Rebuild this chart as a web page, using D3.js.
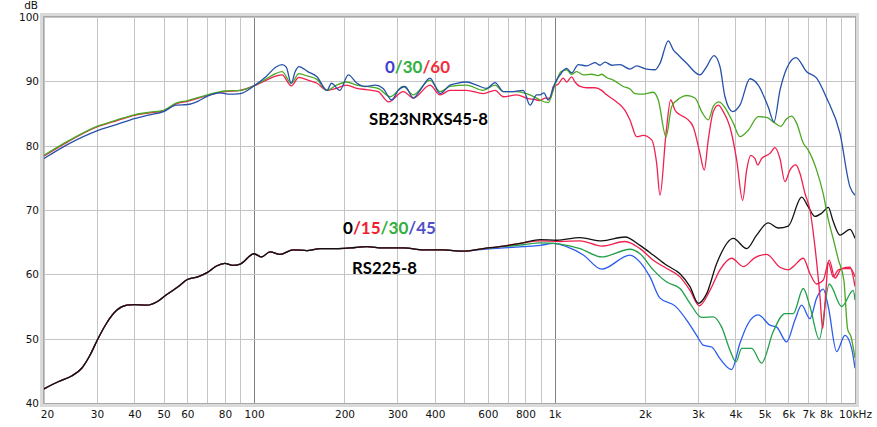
<!DOCTYPE html>
<html><head><meta charset="utf-8">
<script src="https://cdn.jsdelivr.net/npm/d3@7"></script>
<style>html,body{margin:0;padding:0;background:#fff;}svg{display:block;}</style>
</head><body>
<svg id="c" width="877" height="427"></svg>
<script>
// ---------- DATA ----------
const xTickLabels = [[20,"20"],[30,"30"],[40,"40"],[50,"50"],[60,"60"],[80,"80"],[100,"100"],[200,"200"],[300,"300"],[400,"400"],[600,"600"],[800,"800"],[1000,"1k"],[2000,"2k"],[3000,"3k"],[4000,"4k"],[5000,"5k"],[6000,"6k"],[7000,"7k"],[8000,"8k"],[10000,"10kHz"]];
const xGrid = [20,30,40,50,60,70,80,90,100,200,300,400,500,600,700,800,900,1000,2000,3000,4000,5000,6000,7000,8000,9000,10000];
const yTicks = [40,50,60,70,80,90,100];

// SB23NRXS45-8 : 0 / 30 / 60 deg
const sb23_0 = [[20,78.0],[24,80.2],[30,82.3],[35,83.3],[40,84.2],[45,84.8],[50,85.3],[55,86.3],[60,86.4],[65,86.9],[70,87.7],[77,88.2],[83,88.0],[90,88.1],[100,89.3],[110,90.8],[118,92.2],[124,92.6],[128,92.2],[133,89.7],[137,91.5],[141,92.3],[151,91.5],[162,90.7],[175,88.6],[181,89.7],[193,88.6],[206,91.0],[220,89.7],[234,89.2],[253,89.4],[269,88.9],[287,87.1],[302,88.6],[318,89.2],[339,87.4],[357,88.6],[385,90.5],[416,88.1],[449,89.4],[473,89.7],[510,89.9],[551,89.4],[595,88.9],[634,89.8],[676,88.4],[729,88.4],[787,88.6],[829,86.3],[872,87.9],[895,87.9],[922,88.2],[953,87.1],[1003,89.7],[1043,91.0],[1097,92.0],[1140,91.3],[1200,92.6],[1280,92.4],[1363,92.9],[1417,92.5],[1472,93.0],[1550,92.5],[1651,92.6],[1783,91.9],[1877,92.4],[2026,91.9],[2160,91.8],[2244,92.8],[2391,96.3],[2485,94.9],[2581,94.1],[2753,92.8],[3048,91.0],[3209,92.3],[3394,94.0],[3553,92.3],[3692,87.6],[3916,85.3],[4141,86.3],[4471,90.4],[4764,89.4],[5144,86.0],[5374,83.7],[5627,88.6],[5923,92.0],[6360,93.7],[6905,91.5],[7453,90.5],[8046,87.4],[8913,81.9],[9622,73.6],[10000,72.3]];
const sb23_30 = [[20,78.5],[24,80.7],[30,83.0],[35,84.0],[40,84.8],[45,85.2],[50,85.5],[55,86.6],[60,87.0],[70,87.9],[80,88.5],[90,88.6],[100,89.3],[110,90.4],[118,91.2],[124,91.5],[133,89.7],[141,91.2],[151,90.8],[162,90.3],[175,88.6],[188,89.4],[203,89.9],[220,89.4],[237,89.2],[259,88.9],[284,87.6],[314,89.2],[339,87.9],[385,90.2],[416,88.4],[449,89.2],[510,89.4],[579,88.6],[634,89.4],[676,88.4],[748,88.4],[808,88.1],[872,87.4],[895,87.1],[953,86.7],[1003,89.4],[1050,91.5],[1097,91.8],[1140,91.1],[1185,91.5],[1247,91.0],[1329,91.1],[1398,90.9],[1435,91.1],[1491,90.6],[1569,90.2],[1694,89.2],[1783,88.8],[1853,88.1],[1974,88.0],[2131,88.3],[2215,87.1],[2350,81.4],[2455,86.1],[2615,87.4],[2753,87.8],[2934,87.4],[3088,85.3],[3248,84.0],[3376,86.1],[3526,86.8],[3740,85.5],[3935,83.5],[4141,81.4],[4414,82.4],[4764,84.5],[5082,84.4],[5345,83.7],[5657,83.0],[5923,84.2],[6154,84.6],[6393,83.5],[6726,80.4],[6990,79.3],[7453,76.2],[7840,72.5],[8150,68.5],[8465,65.5],[8800,62.3],[9187,59.0],[9450,51.5],[9700,50.3],[10000,47.0]];
const sb23_60 = [[20,78.4],[24,80.6],[30,82.9],[35,83.9],[40,84.7],[45,85.1],[50,85.4],[55,86.5],[60,86.9],[70,87.8],[80,88.4],[90,88.6],[100,89.3],[110,90.2],[118,90.8],[124,91.0],[133,89.3],[141,90.6],[151,90.2],[162,89.7],[175,88.6],[188,88.9],[203,89.4],[220,88.9],[237,88.7],[259,88.4],[280,86.8],[314,88.4],[339,87.4],[385,89.4],[416,87.9],[449,88.6],[510,88.6],[579,88.1],[634,88.6],[676,87.6],[748,87.9],[808,87.4],[872,87.1],[895,87.0],[930,87.4],[967,87.4],[991,89.2],[1030,89.6],[1069,90.5],[1097,89.9],[1140,90.7],[1170,89.9],[1216,89.2],[1280,89.0],[1363,89.0],[1435,88.6],[1491,87.9],[1610,86.8],[1716,85.5],[1783,84.0],[1877,81.4],[1974,81.6],[2105,80.9],[2188,77.2],[2244,72.3],[2350,81.9],[2436,87.1],[2518,85.5],[2615,84.8],[2753,84.2],[2896,82.9],[3048,78.8],[3150,76.2],[3248,80.9],[3376,85.3],[3508,86.3],[3644,85.3],[3836,82.9],[4038,77.8],[4228,71.5],[4360,76.2],[4495,78.5],[4646,78.0],[4743,77.0],[4890,78.0],[5212,78.8],[5415,79.7],[5627,78.0],[5846,74.4],[6074,76.2],[6360,77.0],[6557,75.7],[6813,72.6],[7082,70.0],[7357,64.3],[7646,56.5],[7804,51.6],[8004,57.5],[8147,61.9],[8465,59.6],[8794,60.7],[9187,60.9],[9671,60.9],[10000,59.6]];

// RS225-8 : 0 / 15 / 30 / 45 deg
const rsLow = [[20,42.2],[22.3,43.3],[24.7,44.2],[26.7,45.4],[28.5,47.5],[30.1,49.8],[32.3,52.4],[34.9,54.4],[37.7,55.2],[40,55.3],[44,55.2],[47.4,55.7],[51,56.8],[56,58.1],[60,59.2],[65,59.6],[70,60.3],[75,61.3],[80,61.7],[85,61.4],[90,61.6],[100,63.2],[106,62.7],[113,63.5],[122,63.1],[135,63.8],[150,63.7],[166,64.0],[188,64.0],[209,64.1],[237,64.3],[269,64.1],[314,64.1],[366,63.8],[426,63.8],[497,63.6]];
const rs_0 = [[579,64.0],[676,64.4],[787,64.9],[895,65.4],[1017,65.3],[1216,65.7],[1435,65.2],[1716,65.8],[1925,64.5],[2131,63.0],[2363,61.4],[2615,60.1],[2824,58.1],[3009,55.5],[3209,57.0],[3465,61.7],[3935,65.6],[4360,64.0],[4706,66.1],[5144,68.0],[5554,67.2],[5996,67.5],[6644,72.0],[6990,70.5],[7357,69.0],[7745,69.5],[8147,70.4],[8465,68.2],[8910,66.1],[9620,67.0],[10000,65.6]];
const rs_15 = [[579,64.0],[676,64.4],[787,64.9],[895,65.2],[1043,65.1],[1216,65.2],[1435,64.4],[1716,65.1],[1925,64.0],[2131,62.2],[2363,60.9],[2615,59.6],[2824,57.5],[3032,55.1],[3291,57.5],[3553,60.7],[3886,62.5],[4248,61.2],[4646,62.6],[5082,63.1],[5627,61.1],[5996,60.7],[6229,61.2],[6726,62.5],[7082,60.1],[7453,58.5],[7840,59.1],[8209,62.2],[8576,59.4],[9026,60.9],[9620,61.1],[10000,58.1]];
const rs_30 = [[579,64.0],[676,64.3],[787,64.6],[895,64.9],[1043,64.7],[1216,64.0],[1435,62.7],[1783,63.9],[1925,63.2],[2131,60.7],[2363,58.8],[2615,57.8],[2824,55.5],[3088,53.3],[3376,53.4],[3600,51.8],[3836,48.2],[4017,46.4],[4196,48.5],[4530,48.5],[4890,46.2],[5345,51.1],[5846,53.9],[6229,53.9],[6726,57.8],[7082,55.0],[7604,49.9],[8209,58.5],[9026,55.0],[9866,57.5],[10000,56.0]];
const rs_45 = [[579,63.9],[676,64.1],[787,64.3],[895,64.5],[991,64.8],[1097,64.3],[1247,63.0],[1435,60.8],[1783,63.0],[1925,61.9],[2078,59.6],[2244,56.3],[2518,55.1],[2753,52.9],[2972,50.5],[3126,49.0],[3334,48.7],[3553,46.9],[3886,45.2],[4141,49.3],[4414,52.4],[4764,53.7],[5212,52.1],[5487,51.8],[5923,49.5],[6311,52.9],[6644,55.2],[7082,53.1],[7453,56.3],[7840,57.7],[8147,55.0],[8688,48.0],[9259,50.5],[9745,48.5],[10000,45.4]];

// ---------- CHART ----------
const L=44, R=855, T=17, B=403;
const FONT = "'DejaVu Sans', Verdana, sans-serif";
const svg = d3.select("#c");
const x = d3.scaleLog().domain([20,10000]).range([L,R]);
const y = d3.scaleLinear().domain([40,100]).range([B,T]);

// gridlines
const gx = svg.append("g").attr("transform",`translate(0,${B})`)
  .call(d3.axisBottom(x).tickValues(xGrid).tickSize(-(B-T)).tickFormat(""));
gx.select(".domain").remove();
gx.selectAll(".tick line").attr("stroke",d=>(d===100||d===1000)?"#808080":"#c4c4c4").attr("stroke-width",1).attr("shape-rendering","crispEdges");
const gy = svg.append("g").attr("transform",`translate(${L},0)`)
  .call(d3.axisLeft(y).tickValues(yTicks).tickSize(-(R-L)).tickFormat(""));
gy.select(".domain").remove();
gy.selectAll(".tick line").attr("stroke","#c4c4c4").attr("shape-rendering","crispEdges");

const line = d3.line().x(d=>x(d[0])).y(d=>y(d[1])).curve(d3.curveMonotoneX);
function draw(data,color,w){
  svg.append("path").datum(data).attr("fill","none").attr("stroke",color).attr("stroke-width",w||1.3).attr("d",line);
}
// RS225 curves
draw(rsLow.concat(rs_45),"#2a5cf0");
draw(rsLow.concat(rs_30),"#22a04a");
draw(rsLow.concat(rs_15),"#f0204c");
draw(rsLow.concat(rs_0),"#141010");
// SB23 curves
draw(sb23_60,"#f02050");
draw(sb23_30,"#4aa822");
draw(sb23_0,"#2450aa");

// frame
svg.append("rect").attr("x",L-2.5).attr("y",T-2.5).attr("width",R-L+5).attr("height",B-T+5)
  .attr("fill","none").attr("stroke","#dadada").attr("stroke-width",3);
svg.append("rect").attr("x",L-0.5).attr("y",T-0.5).attr("width",R-L+1).attr("height",B-T+1)
  .attr("fill","none").attr("stroke","#a8a8a8").attr("stroke-width",1);

// axes labels
const ax = svg.append("g").attr("transform",`translate(0,${B})`)
  .call(d3.axisBottom(x).tickValues(xTickLabels.map(d=>d[0])).tickSize(0).tickPadding(8)
    .tickFormat(d=>xTickLabels.find(t=>t[0]===d)[1]));
ax.select(".domain").remove();
ax.selectAll("text").attr("font-family",FONT).attr("font-size",10.5).attr("fill","#111");
ax.selectAll(".tick").filter(d=>d===20).select("text").attr("dx",3);

const ay = svg.append("g").attr("transform",`translate(${L},0)`)
  .call(d3.axisLeft(y).tickValues(yTicks).tickSize(0).tickPadding(5));
ay.select(".domain").remove();
ay.selectAll("text").attr("font-family",FONT).attr("font-size",10.5).attr("fill","#111");
svg.append("text").attr("x",38).attr("y",9).attr("text-anchor","end")
  .attr("font-family",FONT).attr("font-size",10.5).attr("fill","#111").text("dB");

// annotations
function label(xp,yp,parts,width){
  const t = svg.append("text").attr("x",xp).attr("y",yp)
    .attr("font-family","Lato, 'Open Sans', sans-serif").attr("font-weight","bold").attr("font-size",17);
  parts.forEach(p=>t.append("tspan").attr("fill",p[1]).text(p[0]));
  if(width) t.attr("textLength",width).attr("lengthAdjust","spacingAndGlyphs");
}
label(385,73,[["0","#4040d0"],["/30","#30b040"],["/60","#f03040"]],65);
label(369,125,[["SB23NRXS45-8","#000"]],119);
label(343,234,[["0","#000"],["/15","#f02030"],["/30","#30b040"],["/45","#5050c8"]],93);
label(352,274,[["RS225-8","#000"]],65);
</script>
</body></html>
